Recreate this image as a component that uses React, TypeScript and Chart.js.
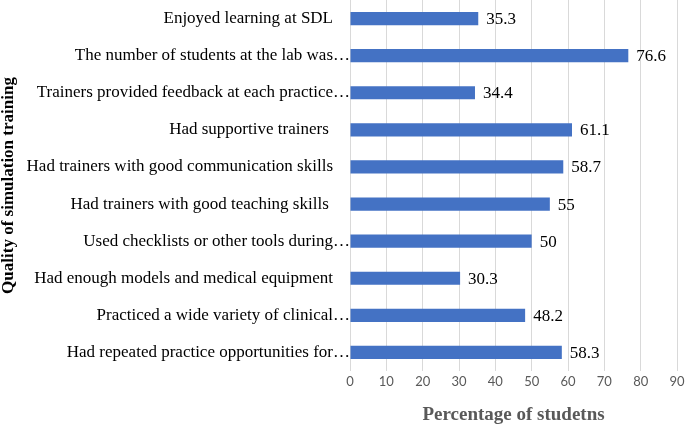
import React, { useEffect, useRef } from "react";
import { Chart, registerables } from "chart.js";

Chart.register(...registerables);

const categories: string[] = [
  "Enjoyed learning at SDL",
  "The number of students at the lab was…",
  "Trainers provided feedback at each practice…",
  "Had supportive trainers ",
  "Had trainers with good communication skills",
  "Had trainers with good teaching skills ",
  "Used checklists or other tools during…",
  "Had enough models and medical equipment",
  "Practiced a wide variety of clinical…",
  "Had repeated practice opportunities for…",
];

const percentages: number[] = [35.3, 76.6, 34.4, 61.1, 58.7, 55, 50, 30.3, 48.2, 58.3];

const xTickValues: number[] = [0, 10, 20, 30, 40, 50, 60, 70, 80, 90];

const SERIF = "'Liberation Serif', 'Times New Roman', serif";

const labelPlugin = {
  id: "customLabels",
  afterDatasetsDraw(chart: any) {
    const ctx = chart.ctx;
    const area = chart.chartArea;
    const meta = chart.getDatasetMeta(0);
    const yScale = chart.scales.y;
    ctx.save();
    ctx.fillStyle = "#000";
    ctx.font = "17px " + SERIF;
    ctx.textBaseline = "middle";
    categories.forEach((lab, i) => {
      const y = yScale.getPixelForTick(i);
      const truncated = lab.endsWith("…");
      const text = truncated ? lab.slice(0, -1) : lab;
      const rx = area.left - 17;
      ctx.textAlign = "right";
      ctx.fillText(text, rx, y);
      if (truncated) {
        ctx.textAlign = "left";
        ctx.fillText("…", rx, y);
      }
    });
    ctx.textAlign = "left";
    meta.data.forEach((bar: any, i: number) => {
      ctx.fillText(String(percentages[i]), bar.x + 8, bar.y + 1);
    });
    ctx.restore();
  },
};

export default function App() {
  const ref = useRef<HTMLCanvasElement | null>(null);
  useEffect(() => {
    if (!ref.current) return;
    const chart = new Chart(ref.current, {
      type: "bar",
      data: {
        labels: categories,
        datasets: [
          {
            data: percentages,
            backgroundColor: "#4472C4",
            borderWidth: 0,
            categoryPercentage: 1,
            barPercentage: 0.355,
          },
        ],
      },
      options: {
        indexAxis: "y",
        responsive: false,
        animation: false,
        layout: { padding: { top: 0, right: 0, bottom: 0, left: 0 } },
        plugins: {
          legend: { display: false },
          tooltip: { enabled: false },
        },
        scales: {
          x: {
            min: 0,
            max: 90,
            afterBuildTicks: (scale: any) => {
              scale.ticks = xTickValues.map((v) => ({ value: v }));
            },
            afterFit: (scale: any) => {
              scale.height = 54;
              scale.paddingRight = 8;
              scale.paddingLeft = 0;
            },
            grid: { color: "#d9d9d9", lineWidth: 1, drawTicks: false },
            border: { display: false },
            ticks: {
              color: "#595959",
              font: { family: "Lato", size: 13 },
              padding: 3,
              maxRotation: 0,
            },
            title: {
              display: true,
              text: "Percentage of studetns",
              color: "#595959",
              font: { family: SERIF, size: 19, weight: "bold", lineHeight: 1 },
              padding: { top: 0, bottom: 0 },
            },
          },
          y: {
            grid: { display: false },
            border: { display: false },
            ticks: { display: false },
            afterFit: (scale: any) => {
              scale.width = 350;
            },
            title: {
              display: true,
              text: "Quality of simulation training",
              color: "#000",
              font: { family: SERIF, size: 17, weight: "bold", lineHeight: 1 },
              padding: { top: 0, bottom: 0 },
            },
          },
        },
      },
      plugins: [labelPlugin],
    });
    return () => chart.destroy();
  }, []);
  return (
    <div style={{ position: "absolute", left: 0, top: 0, width: 685, height: 425, background: "#fff" }}>
      <canvas ref={ref} width={685} height={425} style={{ display: "block" }} />
    </div>
  );
}
